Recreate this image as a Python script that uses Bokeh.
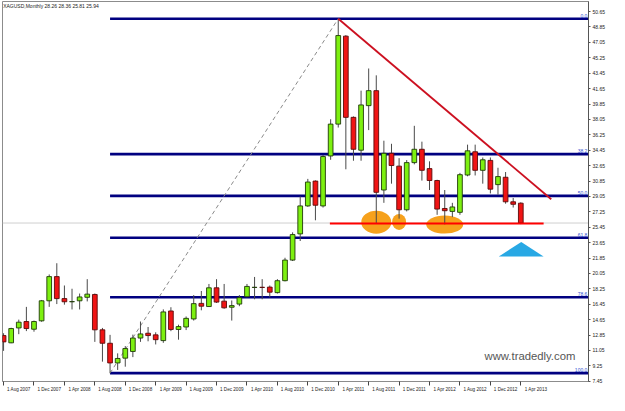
from bokeh.plotting import figure
from bokeh.models import Range1d, FixedTicker, LinearAxis, Label, ColumnDataSource, PrintfTickFormatter, Span
from bokeh.embed import file_html
from bokeh.resources import INLINE
from bokeh.core.properties import value

# ---------------- data (XAGUSD monthly, Aug 2007 .. Apr 2013) ----------------
months = ["Aug 2007", "Sep 2007", "Oct 2007", "Nov 2007", "Dec 2007",
          "Jan 2008", "Feb 2008", "Mar 2008", "Apr 2008", "May 2008", "Jun 2008",
          "Jul 2008", "Aug 2008", "Sep 2008", "Oct 2008", "Nov 2008", "Dec 2008",
          "Jan 2009", "Feb 2009", "Mar 2009", "Apr 2009", "May 2009", "Jun 2009",
          "Jul 2009", "Aug 2009", "Sep 2009", "Oct 2009", "Nov 2009", "Dec 2009",
          "Jan 2010", "Feb 2010", "Mar 2010", "Apr 2010", "May 2010", "Jun 2010",
          "Jul 2010", "Aug 2010", "Sep 2010", "Oct 2010", "Nov 2010", "Dec 2010",
          "Jan 2011", "Feb 2011", "Mar 2011", "Apr 2011", "May 2011", "Jun 2011",
          "Jul 2011", "Aug 2011", "Sep 2011", "Oct 2011", "Nov 2011", "Dec 2011",
          "Jan 2012", "Feb 2012", "Mar 2012", "Apr 2012", "May 2012", "Jun 2012",
          "Jul 2012", "Aug 2012", "Sep 2012", "Oct 2012", "Nov 2012", "Dec 2012",
          "Jan 2013", "Feb 2013", "Mar 2013", "Apr 2013"]

opens = [12.79, 11.94, 13.68, 14.43, 13.53, 14.51, 16.85, 19.68, 17.11, 16.74, 16.85,
         17.26, 17.59, 13.46, 11.89, 9.59, 10.15, 10.93, 12.50, 13.06, 12.87, 12.20,
         15.66, 13.50, 13.79, 14.73, 16.55, 16.18, 18.37, 16.81, 16.10, 16.47, 17.33,
         18.41, 18.43, 18.45, 17.81, 19.20, 21.61, 24.67, 27.94, 30.84, 27.94, 33.78,
         37.50, 47.78, 38.29, 34.45, 39.66, 41.41, 29.80, 34.09, 32.59, 27.49, 33.00,
         34.56, 32.30, 30.91, 27.64, 27.30, 27.19, 31.55, 34.27, 32.10, 33.26, 30.43,
         31.29, 28.42, 28.26]
highs = [13.06, 13.70, 14.65, 16.14, 14.54, 16.95, 19.93, 21.24, 18.64, 18.26, 17.70,
         19.38, 17.70, 13.68, 12.87, 10.71, 11.56, 12.90, 14.43, 13.79, 13.17, 15.85,
         16.10, 14.06, 15.02, 17.52, 18.00, 18.82, 19.38, 18.82, 16.89, 17.52, 18.82,
         19.64, 19.38, 18.64, 19.38, 21.88, 24.85, 29.05, 31.10, 30.92, 33.89, 38.07,
         49.82, 47.90, 38.40, 41.41, 44.00, 43.20, 35.56, 35.20, 33.52, 33.30, 37.30,
         35.45, 33.15, 31.00, 29.80, 28.30, 31.80, 35.10, 35.10, 33.60, 33.60, 32.40,
         31.90, 28.87, 28.36]
lows = [11.00, 11.90, 12.95, 13.31, 13.24, 14.40, 16.14, 16.47, 16.40, 15.84, 15.84,
        16.78, 12.05, 9.74, 8.40, 8.77, 9.15, 10.27, 12.05, 12.12, 11.75, 11.94,
        13.30, 12.31, 13.43, 14.54, 15.74, 16.14, 16.60, 15.92, 14.54, 16.22, 17.25,
        17.03, 17.03, 17.25, 17.70, 19.12, 21.50, 23.84, 27.83, 26.26, 27.75, 33.33,
        37.10, 32.22, 33.22, 33.22, 36.80, 25.90, 28.30, 30.54, 26.45, 27.30, 32.80,
        30.90, 29.80, 26.90, 25.78, 26.63, 26.90, 31.40, 31.50, 30.54, 29.40, 29.25,
        28.20, 27.75, 25.81]
closes = [12.05, 13.61, 14.35, 13.61, 14.43, 16.85, 19.68, 17.11, 16.74, 16.76, 17.30,
          17.63, 13.46, 11.89, 9.59, 10.11, 11.27, 12.50, 12.98, 12.79, 12.31, 15.55,
          13.50, 13.84, 14.80, 16.52, 16.22, 18.37, 16.70, 16.03, 16.29, 17.22, 18.53,
          18.43, 18.41, 17.86, 19.20, 21.61, 24.59, 27.94, 30.73, 28.02, 33.71, 37.50,
          47.85, 38.29, 34.56, 39.74, 41.41, 29.53, 34.09, 32.66, 27.49, 33.00, 34.56,
          32.10, 30.91, 27.57, 27.38, 27.82, 31.59, 34.38, 32.10, 33.33, 29.90, 31.37,
          28.42, 28.13, 25.94]

date_labels = ["1 Aug 2007", "1 Dec 2007", "1 Apr 2008", "1 Aug 2008", "1 Dec 2008",
               "1 Apr 2009", "1 Aug 2009", "1 Dec 2009", "1 Apr 2010", "1 Aug 2010",
               "1 Dec 2010", "1 Apr 2011", "1 Aug 2011", "1 Dec 2011", "1 Apr 2012",
               "1 Aug 2012", "1 Dec 2012", "1 Apr 2013"]
price_ticks = [7.45, 9.25, 11.05, 12.85, 14.65, 16.45, 18.25, 20.05, 21.85, 23.65,
               25.45, 27.25, 29.05, 30.85, 32.65, 34.45, 36.25, 38.05, 39.85, 41.65,
               43.45, 45.25, 47.05, 48.85, 50.65]

title_text = "XAGUSD,Monthly  28.26 28.36 25.81 25.94"
last_price = 25.94

# Fibonacci retracement: swing low (Oct 2008) -> swing high (Apr 2011)
fib_low_idx, fib_high_idx = 14, 44
fib_ratios = [0.0, 0.382, 0.5, 0.618, 0.786, 1.0]
fib_labels = ["0.0", "38.2", "50.0", "61.8", "78.6", "100.0"]

# drawn annotations (index, price)
trend_x = [44, 72.0]
trend_y = [49.82, 28.72]
support_x = [42.9, 71.0]
support_y = [25.89, 25.89]
circle_x = [49, 52, 58]
circle_y = [26.04, 26.07, 25.76]
arrow_x = [65.1, 68.06, 71.0]
arrow_y = [22.02, 23.73, 22.02]
watermark = "www.tradedly.com"
watermark_pos = (69.2, 10.41)

# ---------------- figure ----------------
n = len(months)
idx = list(range(n))
x_end = 76.9

p = figure(width=608, height=394, output_backend="svg", toolbar_location=None,
           x_range=Range1d(-0.14, x_end), y_range=Range1d(7.42, 51.83),
           x_axis_location=None, y_axis_location=None,
           min_border_left=2, min_border_top=1, min_border_right=2, min_border_bottom=0,
           background_fill_color="white", border_fill_color="white")
p.grid.visible = False
p.outline_line_color = "#8c8c8c"
p.outline_line_width = 1

# current price line (behind everything)
p.add_layout(Span(location=last_price, dimension="width", line_color="#cfcfcf",
                  line_width=1, level="underlay"))

# fib levels
swing_hi = highs[fib_high_idx]
swing_lo = lows[fib_low_idx]
fib_levels = [swing_hi - r * (swing_hi - swing_lo) for r in fib_ratios]
p.segment(x0=[fib_low_idx] * len(fib_levels), y0=fib_levels,
          x1=[x_end] * len(fib_levels), y1=fib_levels,
          line_color="#000080", line_width=2.6)
p.text(x=[x_end - 0.15] * len(fib_levels), y=fib_levels, text=fib_labels,
       text_align="right", text_baseline="bottom", y_offset=-1,
       text_font=value("Liberation Sans"), text_font_size="5px", text_color="#2f4fd0")

# fib trend (dashed)
p.line(x=[fib_low_idx, fib_high_idx], y=[swing_lo, swing_hi],
       line_color="#8a8a8a", line_width=1, line_dash="4 3")

# orange highlight ellipses
p.ellipse(x=circle_x, y=circle_y, width=[30, 14, 37], height=[23, 16, 18],
          width_units="screen", height_units="screen",
          fill_color="#f6a11c", line_color=None)

# candles
up = [i for i in idx if closes[i] >= opens[i]]
dn = [i for i in idx if closes[i] < opens[i]]
p.segment(x0=idx, y0=lows, x1=idx, y1=highs, line_color="#4a4a4a", line_width=1)
src_up = ColumnDataSource(dict(x=up, top=[closes[i] for i in up], bottom=[opens[i] for i in up]))
src_dn = ColumnDataSource(dict(x=dn, top=[opens[i] for i in dn], bottom=[closes[i] for i in dn]))
p.vbar(x="x", top="top", bottom="bottom", width=0.62, source=src_up,
       fill_color="#7df010", line_color="#1f3a08", line_width=0.9)
p.vbar(x="x", top="top", bottom="bottom", width=0.62, source=src_dn,
       fill_color="#f01414", line_color="#5a0a0a", line_width=0.9)

# trend line and support
p.line(x=trend_x, y=trend_y, line_color="#cc1020", line_width=1.8)
p.line(x=support_x, y=support_y, line_color="#ff0000", line_width=2)

# blue arrow
p.patch(x=arrow_x, y=arrow_y, fill_color="#28a8e4", line_color=None)

# watermark
p.text(x=[watermark_pos[0]], y=[watermark_pos[1]], text=[watermark],
       text_align="center", text_baseline="middle",
       text_font=value("Liberation Sans"), text_font_size="11.3px", text_color="#555555")

# title
p.add_layout(Label(x=-0.05, y=51.7, text=title_text, text_baseline="top", text_align="left",
                   text_font="Liberation Sans", text_font_size="5px", text_color="#222222"))

# right price axis
yaxis = LinearAxis(ticker=FixedTicker(ticks=price_ticks),
                   formatter=PrintfTickFormatter(format="%.2f"))
yaxis.major_label_text_font = "Liberation Sans"
yaxis.major_label_text_font_size = "5px"
yaxis.major_label_text_color = "#222222"
yaxis.major_tick_out = 2
yaxis.major_tick_in = 0
yaxis.minor_tick_line_color = None
yaxis.major_label_standoff = 2
yaxis.axis_line_color = "#555555"
yaxis.major_tick_line_color = "#555555"
p.add_layout(yaxis, "right")

# price tag
p.add_layout(Label(x=x_end, y=last_price, x_offset=1, text="25.94", text_align="left",
                   text_baseline="middle", text_font="Liberation Sans",
                   text_font_size="5px", text_color="white", background_fill_color="black"))

# bottom date axis (labels start at their month, as in MetaTrader)
label_idx = [months.index(lab[2:]) for lab in date_labels]
label_pos = [i + 2 for i in label_idx]
xaxis = LinearAxis(ticker=FixedTicker(ticks=label_pos, minor_ticks=label_idx),
                   major_label_overrides={pos: lab for pos, lab in zip(label_pos, date_labels)})
xaxis.major_label_text_font = "Liberation Sans"
xaxis.major_label_text_font_size = "4.6px"
xaxis.major_label_text_color = "#222222"
xaxis.major_tick_line_color = None
xaxis.major_tick_out = 0
xaxis.major_tick_in = 0
xaxis.minor_tick_out = 4
xaxis.minor_tick_in = 0
xaxis.minor_tick_line_color = "#444444"
xaxis.major_label_standoff = 1
xaxis.axis_line_color = "#8c8c8c"
p.add_layout(xaxis, "below")

open("out.html", "w").write(file_html(p, INLINE))
